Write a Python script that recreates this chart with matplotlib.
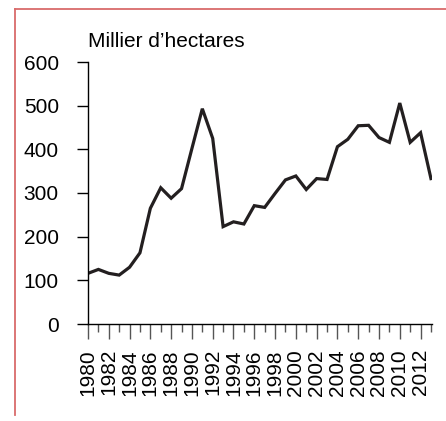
import matplotlib.pyplot as plt
import matplotlib.lines as mlines
import numpy as np

# === Data ===
years = np.arange(1980, 2014)
surface = [116, 125, 116, 112, 130, 163, 265, 312, 288, 310,
           402, 493, 425, 223, 234, 229, 271, 267, 299, 330,
           339, 308, 333, 331, 406, 423, 454, 455, 427, 416,
           506, 416, 438, 333]
unit_label = "Millier d\u2019hectares"
y_ticks = [0, 100, 200, 300, 400, 500, 600]

plt.rcParams['font.family'] = ['Liberation Sans', 'DejaVu Sans']

fig = plt.figure(figsize=(4.46, 4.21), dpi=100)
ax = fig.add_axes([88/446, 1-324/421, (432-88)/446, (324-62)/421])

ax.plot(years, surface, color="#231f20", lw=2.3, solid_joinstyle='miter')

ax.set_xlim(1980, 2013.1)
ax.set_ylim(0, 600)

# Axes style
for s in ["top", "right"]:
    ax.spines[s].set_visible(False)
ax.spines["left"].set_linewidth(1.0)
ax.spines["bottom"].set_linewidth(1.0)

ax.set_yticks(y_ticks)
ax.tick_params(axis='y', direction='out', length=8, width=1.0,
               labelsize=15, pad=13)

ax.set_xticks(years[::2])
ax.set_xticklabels([str(y) for y in years[::2]], rotation=90)
ax.set_xticks(years[1::2], minor=True)
ax.tick_params(axis='x', which='major', direction='out', length=11,
               width=1.0, color="#555555", labelsize=15, pad=7)
ax.tick_params(axis='x', which='minor', direction='out', length=6,
               width=1.0, color="#555555")

fig.text(88/446, 1-47/421, unit_label, fontsize=15, ha='left',
         va='baseline')

# Red frame (top and left edges)
frame_color = "#d96b6b"
fig.add_artist(mlines.Line2D([15/446, 1], [1-9/421, 1-9/421],
                             color=frame_color, lw=1.3))
fig.add_artist(mlines.Line2D([15/446, 15/446], [1-9/421, 1-415/421],
                             color=frame_color, lw=1.3))

fig.savefig("out.png", dpi=100)
